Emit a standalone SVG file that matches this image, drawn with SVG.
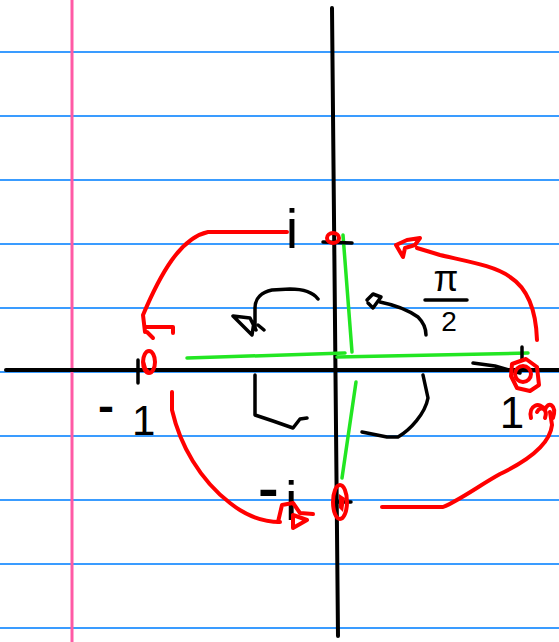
<svg xmlns="http://www.w3.org/2000/svg" width="559" height="642" viewBox="0 0 559 642">
  <style>
    .rule { stroke: #3a9cff; stroke-width: 2; }
    .margin { stroke: #ff5aa5; stroke-width: 3; }
    .axis { stroke: #000; stroke-width: 4; stroke-linecap: round; fill: none; }
    .ink { stroke: #000; stroke-width: 3.5; stroke-linecap: round; stroke-linejoin: round; fill: none; }
    .red { stroke: #ff0000; stroke-width: 4; stroke-linecap: round; stroke-linejoin: round; fill: none; }
    .green { stroke: #22e622; stroke-width: 3.5; stroke-linecap: round; fill: none; }
    .lbl { font-family: "Liberation Sans", Arial, sans-serif; fill: #000; }
    .dash { stroke: #000; stroke-width: 2; }
  </style>

  <rect width="559" height="642" fill="#fff"/>

  <!-- lined paper -->
  <g id="paper">
    <line class="rule" x1="0" y1="52" x2="559" y2="52"/>
    <line class="rule" x1="0" y1="116" x2="559" y2="116"/>
    <line class="rule" x1="0" y1="180" x2="559" y2="180"/>
    <line class="rule" x1="0" y1="244" x2="559" y2="244"/>
    <line class="rule" x1="0" y1="308" x2="559" y2="308"/>
    <line class="rule" x1="0" y1="372" x2="559" y2="372"/>
    <line class="rule" x1="0" y1="436" x2="559" y2="436"/>
    <line class="rule" x1="0" y1="500" x2="559" y2="500"/>
    <line class="rule" x1="0" y1="564" x2="559" y2="564"/>
    <line class="rule" x1="0" y1="628" x2="559" y2="628"/>
    <line class="margin" x1="72" y1="0" x2="72" y2="642"/>
  </g>

  <!-- axes -->
  <g id="axes">
    <line class="axis" x1="332" y1="8" x2="338" y2="636"/>
    <line class="axis" x1="6" y1="370" x2="559" y2="370"/>
  </g>

  <!-- green radii -->
  <g id="radii">
    <line class="green" x1="187" y1="358" x2="345" y2="353"/>
    <line class="green" x1="337" y1="357" x2="528" y2="353"/>
    <line class="green" x1="343" y1="235" x2="352" y2="352"/>
    <line class="green" x1="356" y1="382" x2="342" y2="478"/>
  </g>

  <!-- point i -->
  <g id="point-i">
    <path class="ink" d="M323,242 L352,243"/>
    <ellipse class="red" cx="333" cy="238" rx="6" ry="5" fill="#ff0000"/>
    <text class="lbl" x="292" y="248" font-size="56" text-anchor="middle">i</text>
  </g>

  <!-- point -1 -->
  <g id="point-minus-1">
    <path class="ink" d="M138,360 L138,383"/>
    <ellipse class="red" stroke-width="5" cx="149" cy="362" rx="6" ry="11"/>
    <path d="M143,354 L147,368 L152,373 L145,372 Z" fill="#ff0000"/>
    <text class="lbl" font-size="42"><tspan class="dash" x="99" y="421">-</tspan><tspan x="132" y="435">1</tspan></text>
  </g>

  <!-- point 1 -->
  <g id="point-1">
    <path class="ink" d="M522,347 L522,360"/>
    <path class="ink" stroke-width="5" d="M473,363 L495,366 L520,373"/>
    <path class="red" d="M512,364 L526,359 L537,367 L539,385 L530,391 L517,388 L511,376 Z"/>
    <circle class="red" cx="523" cy="374" r="8"/>
    <text class="lbl" x="512" y="428" font-size="44" text-anchor="middle">1</text>
  </g>

  <!-- point -i -->
  <g id="point-minus-i">
    <path class="ink" d="M336,502 L351,502"/>
    <ellipse class="red" cx="340" cy="502" rx="7" ry="17"/>
    <path d="M339,494 L345,498 L343,512 L339,508 Z" fill="#ff0000"/>
    <text class="lbl" font-size="56"><tspan class="dash" x="259" y="508">-</tspan><tspan x="285" y="520">i</tspan></text>
  </g>

  <!-- angle label -->
  <g id="angle-label">
    <text class="lbl" x="446" y="291" font-size="36" text-anchor="middle">π</text>
    <path class="ink" d="M425,300 L467,300"/>
    <text class="lbl" x="449" y="331" font-size="28" text-anchor="middle">2</text>
  </g>

  <!-- connectors: rotation arcs and arrows -->
  <g id="connectors">
    <!-- red quarter turns between the four points -->
    <path class="red" d="M287,232 L208,232 C180,238 160,275 143,315 L145,332"/>
    <path class="red" d="M145,327 L173,327 L173,333 M147,332 L153,338"/>

    <path class="red" d="M537,340 C536,308 527,288 510,277 C495,266 470,262 440,255 L417,248"/>
    <path class="red" d="M396,245 L407,240 L420,238 L415,245 L405,248 L403,257 Z"/>

    <path class="red" d="M172,392 L172,410 C180,445 200,480 230,503 C245,515 260,522 280,522"/>
    <path class="red" d="M278,522 L282,505 L293,503 L300,513 L313,514 M293,515 L293,528 L307,520 Z"/>

    <path class="red" d="M382,507 L443,507 C460,500 480,485 500,474 C525,462 550,445 552,425 L550,412"/>
    <path class="red" d="M531,418 C528,405 540,401 545,410 C548,400 557,405 553,418 M537,412 C541,405 548,409 545,418"/>

    <!-- black turning arrows in each quadrant -->
    <path class="ink" d="M318,299 C312,291 302,289 290,289 L272,290 C262,292 255,298 255,308 L255,327"/>
    <path class="ink" d="M233,316 L250,318 L256,330 M233,316 L252,335 L254,322 M258,325 L264,330"/>

    <path class="ink" d="M380,302 C395,305 408,310 418,317 C424,323 426,330 426,335"/>
    <path class="ink" d="M367,300 L373,294 L381,297 L373,308 L368,303"/>

    <path class="ink" d="M255,375 L255,415 L273,421 L293,428 L300,419 L307,418"/>

    <path class="ink" d="M423,375 L428,398 C425,414 410,430 398,437 L387,437 L362,432"/>
  </g>
</svg>
